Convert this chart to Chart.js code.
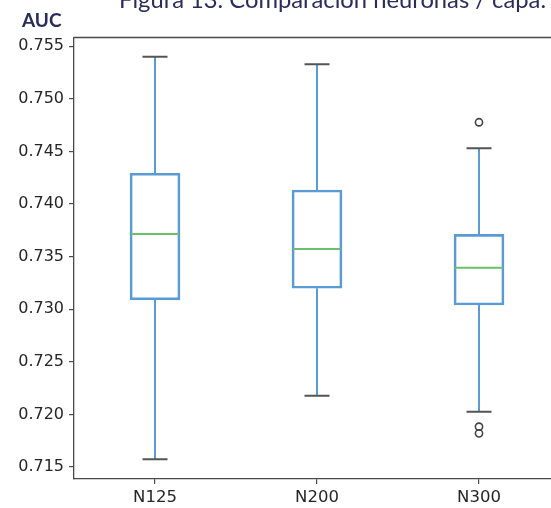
<!DOCTYPE html>
<html>
<head>
<meta charset="utf-8">
<script src="https://cdn.jsdelivr.net/npm/chart.js@4/dist/chart.umd.min.js"></script>
<style>
  html, body { margin: 0; padding: 0; background: #fff; overflow: hidden; width: 551px; height: 508px; }
  canvas { display: block; }
</style>
</head>
<body>
<canvas id="c" width="600" height="508" style="width:600px;height:508px"></canvas>
<script>
// Configurations compared (neurons per layer)
const categories = ['N125', 'N200', 'N300'];

// Five-number summaries of AUC per configuration
const whiskerLow  = [0.71573, 0.72178, 0.72026];
const quartile1   = [0.73088, 0.73199, 0.73040];
const medians     = [0.73715, 0.73572, 0.73395];
const quartile3   = [0.74292, 0.74133, 0.73712];
const whiskerHigh = [0.75400, 0.75328, 0.74530];

// Points beyond the whiskers
const outlierCategory = ['N300', 'N300', 'N300'];
const outlierValues   = [0.74777, 0.71883, 0.71820];

// Y axis tick values
const yTicks = [0.715, 0.720, 0.725, 0.730, 0.735, 0.740, 0.745, 0.750, 0.755];

const titleText = 'Figura 13. Comparación neuronas / capa.';
const yAxisTitle = 'AUC';

const BOX_BLUE = '#5a9bd3';
const MEDIAN_GREEN = '#6cbf6c';
const CAP_GRAY = '#555555';
const AXIS_GRAY = '#4a4a4a';

// Whiskers, caps, medians and the top frame line
const boxExtras = {
  id: 'boxExtras',
  afterDatasetsDraw(chart) {
    const ctx = chart.ctx;
    const x = chart.scales.x, y = chart.scales.y;
    const area = chart.chartArea;
    ctx.save();
    categories.forEach((cat, i) => {
      const cx = x.getPixelForValue(i);
      const capHalf = 12.5, boxHalf = 25;
      // whiskers
      ctx.strokeStyle = BOX_BLUE;
      ctx.lineWidth = 2;
      ctx.beginPath();
      ctx.moveTo(cx, y.getPixelForValue(quartile3[i]));
      ctx.lineTo(cx, y.getPixelForValue(whiskerHigh[i]));
      ctx.moveTo(cx, y.getPixelForValue(quartile1[i]));
      ctx.lineTo(cx, y.getPixelForValue(whiskerLow[i]));
      ctx.stroke();
      // caps
      ctx.strokeStyle = CAP_GRAY;
      ctx.beginPath();
      [whiskerHigh[i], whiskerLow[i]].forEach(v => {
        const py = y.getPixelForValue(v);
        ctx.moveTo(cx - capHalf, py);
        ctx.lineTo(cx + capHalf, py);
      });
      ctx.stroke();
      // median
      ctx.strokeStyle = MEDIAN_GREEN;
      ctx.beginPath();
      const my = y.getPixelForValue(medians[i]);
      ctx.moveTo(cx - boxHalf + 1, my);
      ctx.lineTo(cx + boxHalf - 1, my);
      ctx.stroke();
    });
    // top frame line
    ctx.strokeStyle = AXIS_GRAY;
    ctx.lineWidth = 1.3;
    ctx.beginPath();
    ctx.moveTo(area.left, area.top - 0.5);
    ctx.lineTo(chart.width, area.top - 0.5);
    ctx.stroke();
    ctx.restore();
  }
};

// Caption above the plot and the y axis name
const headerTexts = {
  id: 'headerTexts',
  afterDraw(chart) {
    const ctx = chart.ctx;
    ctx.save();
    ctx.fillStyle = '#2a2c5c';
    ctx.textBaseline = 'alphabetic';
    ctx.textAlign = 'left';
    ctx.font = '23px Lato';
    const w = ctx.measureText(titleText).width;
    ctx.save();
    ctx.translate(119, 8);
    ctx.scale(427 / w, 1);
    ctx.fillText(titleText, 0, 0);
    ctx.restore();
    ctx.font = 'bold 19px Lato';
    ctx.fillText(yAxisTitle, 22, 27);
    ctx.restore();
  }
};

new Chart(document.getElementById('c'), {
  type: 'bar',
  data: {
    labels: categories,
    datasets: [
      {
        label: 'box',
        data: categories.map((c, i) => [quartile1[i], quartile3[i]]),
        backgroundColor: 'rgba(0,0,0,0)',
        borderColor: BOX_BLUE,
        borderWidth: 2,
        borderSkipped: false,
        barThickness: 50
      },
      {
        type: 'scatter',
        label: 'outliers',
        data: outlierValues.map((v, i) => ({ x: outlierCategory[i], y: v })),
        showLine: false,
        pointStyle: 'circle',
        pointRadius: 3.6,
        pointBorderWidth: 1.6,
        pointBorderColor: '#444',
        pointBackgroundColor: 'rgba(0,0,0,0)'
      }
    ]
  },
  options: {
    responsive: false,
    animation: false,
    devicePixelRatio: 1,
    layout: { padding: { top: 38, right: 40, left: 0, bottom: 0 } },
    plugins: { legend: { display: false }, tooltip: { enabled: false }, title: { display: false } },
    scales: {
      x: {
        type: 'category',
        offset: true,
        grid: { display: true, drawOnChartArea: false, tickLength: 5, color: AXIS_GRAY, lineWidth: 1.2, offset: false },
        border: { display: true, color: AXIS_GRAY, width: 1.3 },
        ticks: { color: '#262626', font: { family: 'DejaVu Sans', size: 16.5 }, padding: 4, maxRotation: 0 },
        afterFit(scale) { scale.height = 29; }
      },
      y: {
        type: 'linear',
        min: 0.71386,
        max: 0.75578,
        afterBuildTicks(scale) { scale.ticks = yTicks.map(v => ({ value: v })); },
        grid: { display: true, drawOnChartArea: false, tickLength: 5, color: AXIS_GRAY, lineWidth: 1.2 },
        border: { display: true, color: AXIS_GRAY, width: 1.3 },
        ticks: {
          color: '#262626',
          font: { family: 'DejaVu Sans', size: 16 },
          padding: 5,
          callback: v => Number(v).toFixed(3)
        },
        afterFit(scale) { scale.width = 74; }
      }
    }
  },
  plugins: [boxExtras, headerTexts]
});
</script>
</body>
</html>
